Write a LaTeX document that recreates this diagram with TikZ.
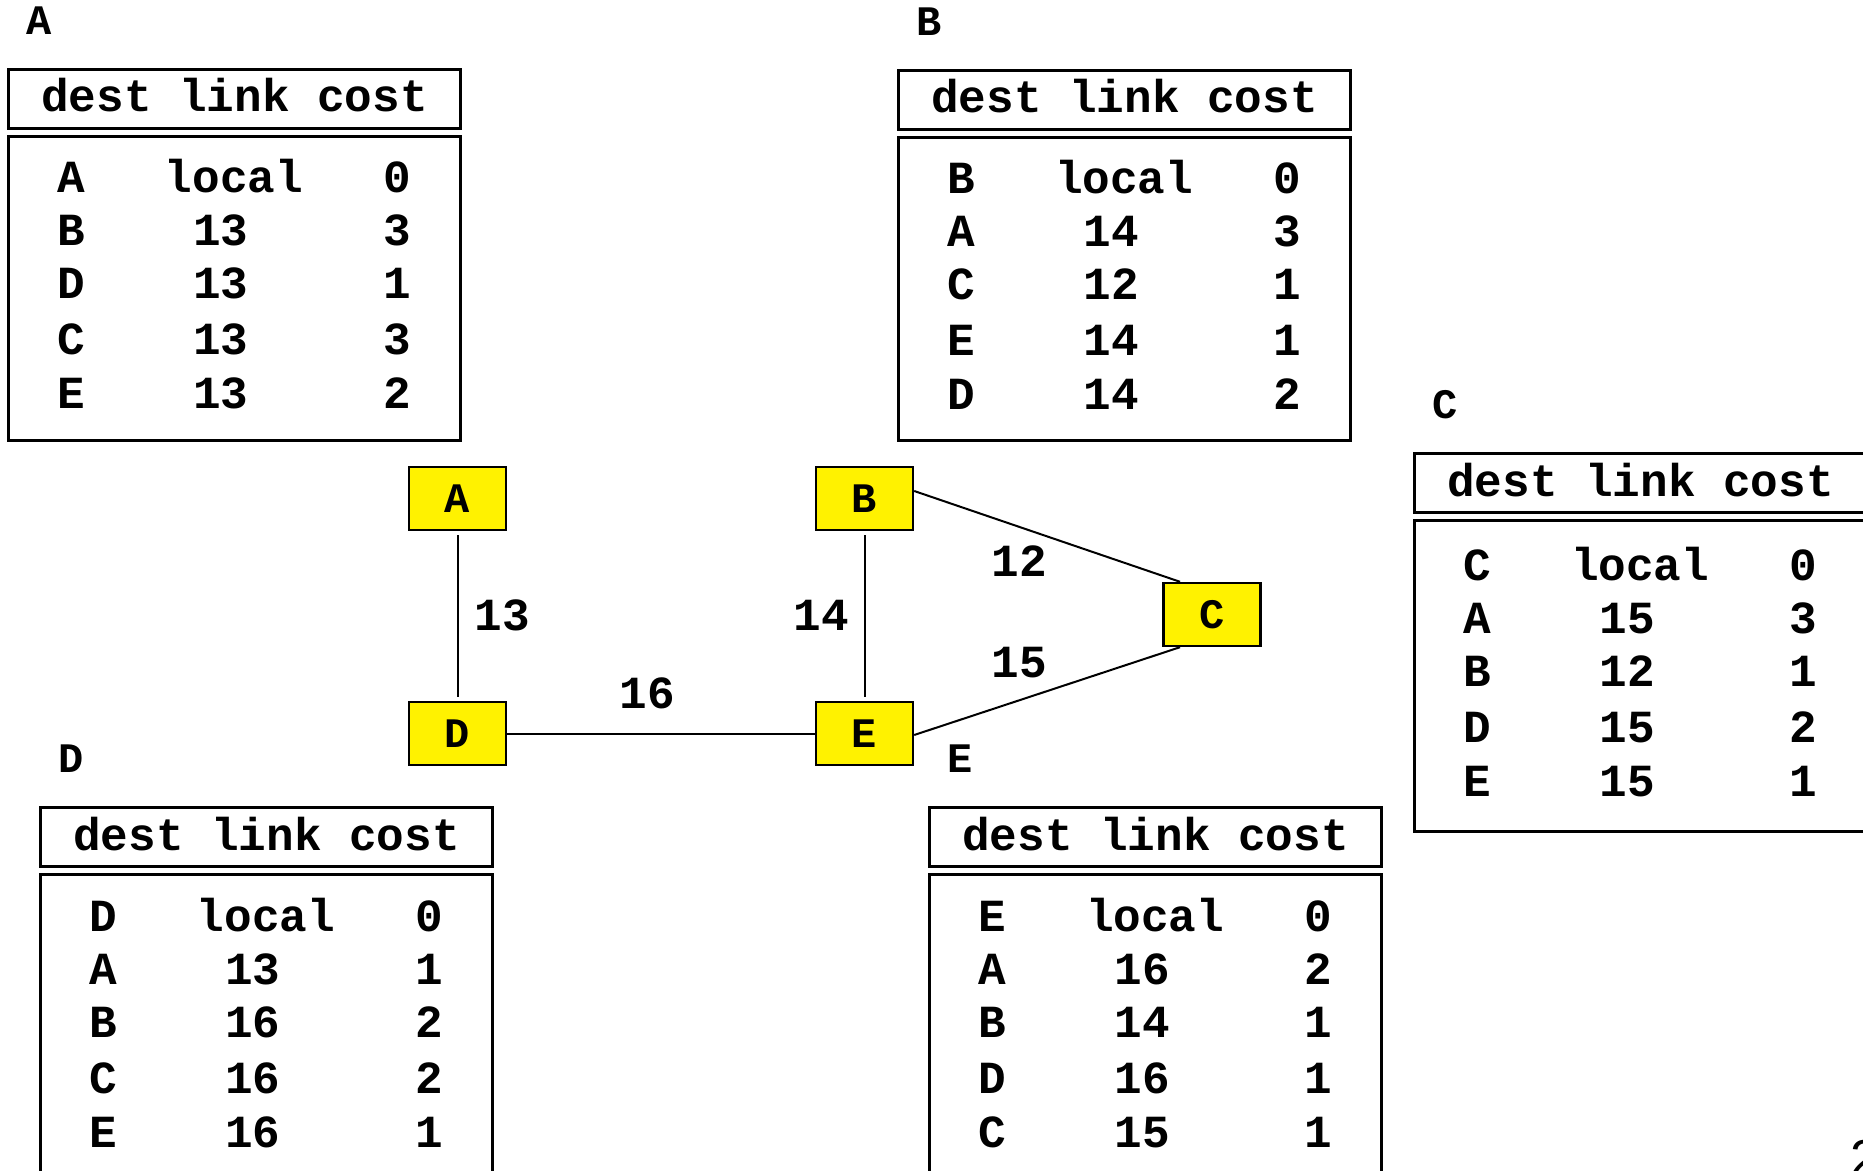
\documentclass[tikz,border=0pt]{standalone}
\usepackage{fontspec}
\setmonofont{Liberation Mono}
\setsansfont{Liberation Sans}
\usetikzlibrary{calc}
\tikzset{
  tbl/.style={line width=1.65pt},
  bigtxt/.style={font=\ttfamily\bfseries\fontsize{23}{27}\selectfont, inner sep=0pt},
  ttl/.style={font=\ttfamily\bfseries\fontsize{21}{25}\selectfont, inner sep=0pt},
  router/.style={draw, line width=1.2pt, fill=yellow, minimum width=48.5pt, minimum height=31.5pt, inner sep=0pt, font=\ttfamily\bfseries\fontsize{21}{25}\selectfont},
  linkline/.style={line width=1pt},
}
% #1 name, #2 left, #3 top, #4 title, #5 body bottom, #6 rows, #7 row shift
\newcommand\rtab[7]{%
  \node[ttl] (#1-t) at (#2+32,#3-47) {#4};
  \draw[tbl] (#2+1.7,#3+1.7) rectangle (#2+453.3,#3+60.3);
  \node[bigtxt, anchor=base] (#1-h) at (#2+227.5,#3+44) {dest link cost};
  \draw[tbl] (#2+1.7,#3+68.7) rectangle (#2+453.3,#5-1.7);
  \foreach \d/\l/\c [count=\i] in {#6} {
    \pgfmathsetmacro\yy{#3+#7+{125,178,231,287,341}[\i-1]}
    \pgfmathsetmacro\lx{\i==1 ? 227 : 214}
    \node[bigtxt, anchor=base] (#1-d\i) at (#2+64,\yy) {\d};
    \node[bigtxt, anchor=base] (#1-l\i) at (#2+\lx,\yy) {\l};
    \node[bigtxt, anchor=base] (#1-c\i) at (#2+390,\yy) {\c};
  }
}
\begin{document}
\begin{tikzpicture}[x=0.5pt, y=-0.5pt]
\useasboundingbox (0,0) rectangle (1863,1171);
\fill[white] (0,0) rectangle (1863,1171);
\clip (0,0) rectangle (1863,1171);

\rtab{ta}{7}{68}{A}{442}{A/local/0, B/13/3, D/13/1, C/13/3, E/13/2}{0}
\rtab{tb}{897}{69}{B}{442}{B/local/0, A/14/3, C/12/1, E/14/1, D/14/2}{0}
\rtab{tc}{1413}{452}{C}{833}{C/local/0, A/15/3, B/12/1, D/15/2, E/15/1}{3}
\rtab{td}{39}{806}{D}{1220}{D/local/0, A/13/1, B/16/2, C/16/2, E/16/1}{0}
\rtab{te}{928}{806}{E}{1220}{E/local/0, A/16/2, B/14/1, D/16/1, C/15/1}{0}

\node[router] (A) at (457.5,498.5) {A};
\node[router] (B) at (864.5,498.5) {B};
\node[router] (C) at (1212,614.5) {C};
\node[router] (D) at (457.5,733.5) {D};
\node[router] (E) at (864.5,733.5) {E};

\draw[linkline, shorten <=2pt, shorten >=2pt] (A.south) -- (D.north);
\draw[linkline, shorten <=2pt, shorten >=2pt] (B.south) -- (E.north);
\draw[linkline] (D.east) -- (E.west);
\draw[linkline] ($(B.east)+(0,-7.5)$) -- ($(C.north)+(-32,0)$);
\draw[linkline] ($(E.east)+(0,1.5)$) -- ($(C.south)+(-32,0)$);

\node[bigtxt] (l13) at (502,615) {13};
\node[bigtxt] (l14) at (821,615) {14};
\node[bigtxt] (l12) at (1019,561) {12};
\node[bigtxt] (l15) at (1019,663) {15};
\node[bigtxt] (l16) at (647,693) {16};

\node[font=\sffamily\fontsize{26}{30}\selectfont, anchor=base west, inner sep=0pt] (pg) at (1850,1176) {2};
\end{tikzpicture}
\end{document}
